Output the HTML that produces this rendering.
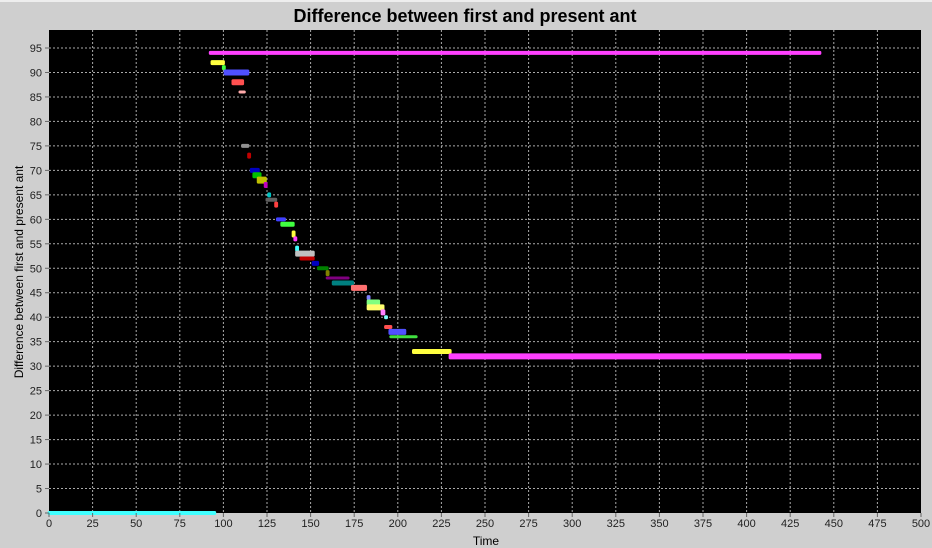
<!DOCTYPE html>
<html><head><meta charset="utf-8"><style>
html,body{margin:0;padding:0;background:#cfcfcf;}
svg{display:block;font-family:"Liberation Sans",sans-serif;}
</style></head><body>
<svg id="c" width="932" height="548">
<rect x="0" y="0" width="932" height="548" fill="#cfcfcf"/>
<rect x="0" y="0" width="932" height="2" fill="#eeeeee"/>
<text x="465" y="22" text-anchor="middle" font-size="18" font-weight="bold" fill="#000">Difference between first and present ant</text>
<rect x="49" y="30" width="872" height="483" fill="#000"/>
<g id="grid"></g><g id="marks"></g><g id="axes"></g>
<text x="486" y="545" text-anchor="middle" font-size="12" fill="#000">Time</text>
<text transform="translate(23,272) rotate(-90)" text-anchor="middle" font-size="12" fill="#000">Difference between first and present ant</text>
</svg>
<script>
const xTicks=[0,25,50,75,100,125,150,175,200,225,250,275,300,325,350,375,400,425,450,475,500];
const yTicks=[0,5,10,15,20,25,30,35,40,45,50,55,60,65,70,75,80,85,90,95];
const segY=[0,94,92,91,90,88,86,75,73,70,69,68,67,65,64,63,60,59,57,56,54,53,52,51,50,49,48,47,46,44,43,42,41,40,38,37,36,33,32];
const segX0=[0,92.5,93.5,100,101,105.5,109.5,111,114.5,116,117.5,120,124,126,125,130,131,133.5,140,141,142,142,144.5,151.5,154.5,159.5,159.5,163,174,183,183,183,191,193,193,195.5,196,209,230];
const segX1=[95,442,100,100.5,114,111,112,114,115,120,121,124,124.5,126.5,130,130.5,135,140,140.5,141.5,142.5,151.5,151.5,154,159.5,160,171.5,174,181.5,183.5,189,191.5,192,193.5,196,204,210.5,230,442];
const segColor=["#40ffff","#ff40ff","#ffff40","#40ff40","#5050ff","#ff5050","#ffaaaa","#909090","#c00000","#0000c0","#00c000","#c0c000","#c000c0","#00c0c0","#606060","#ff4040","#4040ff","#40ff40","#ffff40","#ff40ff","#40ffff","#c0c0c0","#c00000","#0000c0","#008000","#808000","#800080","#008080","#ff7070","#8080ff","#80ff80","#ffff70","#ff80ff","#80ffff","#ff5050","#5050ff","#40e040","#ffff40","#ff40ff"];
const segH=[4,4,5,5,6,6,3,4,6,5,6,7,6,5,4,6,4,5,7,5,6,6,4,5,4,6,3,5,6,5,6,6,6,4,4,6,3,5,6];
const X=v=>49+v*872/500, Y=v=>513-v*(465/95);
const NS="http://www.w3.org/2000/svg";
const grid=document.getElementById('grid'),axes=document.getElementById('axes'),marks=document.getElementById('marks');
function mk(t,a,p){const e=document.createElementNS(NS,t);for(const k in a)e.setAttribute(k,a[k]);p.appendChild(e);return e;}
xTicks.forEach(t=>{const x=X(t);
 if(t>0&&t<500){const g=mk('line',{x1:x,x2:x,y1:30,y2:513,stroke:'#aaa','stroke-dasharray':'2,2','stroke-width':1},grid);
 
 }
 const tk=mk('line',{x1:x,x2:x,y1:513,y2:517,stroke:'#666'},axes);
 
 
 const l=mk('text',{x:x,y:527,'text-anchor':'middle','font-size':11,fill:'#222'},axes);l.textContent=t;
 
 });
yTicks.forEach(t=>{const y=Y(t);
 if(t>0){const g=mk('line',{x1:49,x2:921,y1:y,y2:y,stroke:'#aaa','stroke-dasharray':'2,2','stroke-width':1},grid);
 
 }
 const tk=mk('line',{x1:45,x2:49,y1:y,y2:y,stroke:'#666'},axes);
 
 
 const l=mk('text',{x:42,y:y+4,'text-anchor':'end','font-size':11,fill:'#222'},axes);l.textContent=t;
 
 });
segY.forEach((v,i)=>{const x0=X(segX0[i]),x1=X(segX1[i]),h=segH[i];
 const r=mk('rect',{x:x0-1.5,y:Y(v)-h/2,width:Math.max(3,x1-x0+3),height:h,fill:segColor[i],rx:1.5},marks);
 
 });
</script>
</body></html>
